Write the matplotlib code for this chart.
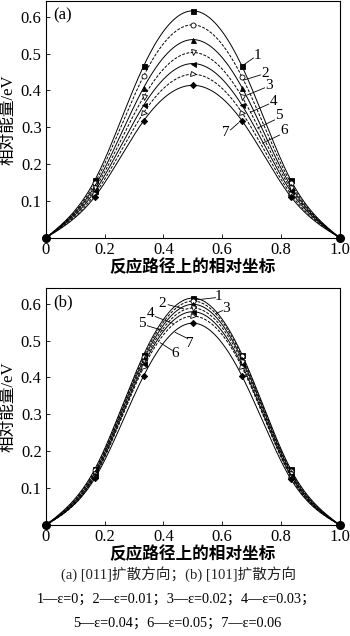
import numpy as np
import matplotlib
matplotlib.use('Agg')
import matplotlib.pyplot as plt

plt.rcParams['font.family'] = ['Liberation Serif', 'Noto Sans CJK SC']

# relative coordinate along the reaction path
x_pts = [0, 0.167, 0.333, 0.5, 0.667, 0.833, 1.0]

# (a) [011] direction, relative energy / eV, eps = 0 ... 0.06
energy_a = [
    [0, 0.157, 0.467, 0.616, 0.466, 0.157, 0],
    [0, 0.149, 0.440, 0.578, 0.437, 0.149, 0],
    [0, 0.141, 0.408, 0.538, 0.408, 0.141, 0],
    [0, 0.134, 0.383, 0.503, 0.383, 0.134, 0],
    [0, 0.127, 0.360, 0.473, 0.360, 0.127, 0],
    [0, 0.119, 0.340, 0.444, 0.340, 0.119, 0],
    [0, 0.112, 0.318, 0.414, 0.318, 0.112, 0],
]
# (b) [101] direction
energy_b = [
    [0, 0.152, 0.462, 0.615, 0.462, 0.151, 0],
    [0, 0.148, 0.456, 0.607, 0.457, 0.147, 0],
    [0, 0.143, 0.449, 0.598, 0.450, 0.143, 0],
    [0, 0.139, 0.442, 0.588, 0.443, 0.139, 0],
    [0, 0.135, 0.435, 0.578, 0.434, 0.135, 0],
    [0, 0.131, 0.428, 0.566, 0.428, 0.131, 0],
    [0, 0.127, 0.405, 0.547, 0.404, 0.125, 0],
]
series_names = ['1', '2', '3', '4', '5', '6', '7']
x_ticks = [0, 0.2, 0.4, 0.6, 0.8, 1.0]
x_ticklabels = ['0', '0.2', '0.4', '0.6', '0.8', '1.0']
y_ticks = [0.1, 0.2, 0.3, 0.4, 0.5, 0.6]

markers = ['s', 'o', '^', 'v', '<', '>', 'D']
filled = [True, False, True, False, True, False, True]
styles = ['-', '--', '-', '--', '-', '--', '-']


def natural_spline(x, y, xs):
    x = np.asarray(x, float)
    y = np.asarray(y, float)
    n = len(x)
    h = np.diff(x)
    A = np.zeros((n, n))
    r = np.zeros(n)
    A[0, 0] = A[-1, -1] = 1
    for i in range(1, n - 1):
        A[i, i - 1] = h[i - 1]
        A[i, i] = 2 * (h[i - 1] + h[i])
        A[i, i + 1] = h[i]
        r[i] = 3 * ((y[i + 1] - y[i]) / h[i] - (y[i] - y[i - 1]) / h[i - 1])
    c = np.linalg.solve(A, r)
    out = np.empty_like(xs)
    for k, xv in enumerate(xs):
        i = min(np.searchsorted(x, xv, side='right') - 1, n - 2)
        i = max(i, 0)
        b = (y[i + 1] - y[i]) / h[i] - h[i] * (2 * c[i] + c[i + 1]) / 3
        d = (c[i + 1] - c[i]) / (3 * h[i])
        t = xv - x[i]
        out[k] = y[i] + b * t + c[i] * t ** 2 + d * t ** 3
    return out


fig = plt.figure(figsize=(3.5, 6.36), dpi=100)
ax_a = fig.add_axes([0.131, 0.626, 0.840, 0.372])
ax_b = fig.add_axes([0.131, 0.1745, 0.840, 0.3725])

xs = np.linspace(0, 1, 300)

# label positions: (text xy, line start, line end) in data coords
labels_a = [
    ((0.720, 0.496), (0.672, 0.469), (0.706, 0.488)),
    ((0.747, 0.447), (0.672, 0.428), (0.730, 0.442)),
    ((0.758, 0.413), (0.686, 0.388), (0.744, 0.407)),
    ((0.775, 0.371), (0.696, 0.341), (0.758, 0.363)),
    ((0.792, 0.331), (0.720, 0.298), (0.778, 0.320)),
    ((0.809, 0.290), (0.737, 0.257), (0.795, 0.279)),
    ((0.611, 0.285), (0.655, 0.312), (0.628, 0.293)),
]
labels_b = [
    ((0.587, 0.618), (0.509, 0.610), (0.577, 0.616)),
    ((0.396, 0.599), (0.468, 0.586), (0.416, 0.597)),
    ((0.614, 0.586), (0.577, 0.573), (0.601, 0.581)),
    ((0.355, 0.573), (0.433, 0.546), (0.372, 0.565)),
    ((0.328, 0.546), (0.399, 0.527), (0.345, 0.540)),
    ((0.440, 0.465), (0.389, 0.494), (0.430, 0.473)),
    ((0.491, 0.492), (0.440, 0.522), (0.481, 0.506)),
]

for ax, data, labs, tag in [(ax_a, energy_a, labels_a, '(a)'),
                            (ax_b, energy_b, labels_b, '(b)')]:
    for i, ys in enumerate(data):
        ax.plot(xs, natural_spline(x_pts, ys, xs), color='black',
                linestyle=styles[i], linewidth=0.7, dashes=(3, 1.5) if styles[i] == '--' else (None, None))
        ax.plot(x_pts[1:-1], ys[1:-1], linestyle='none', marker=markers[i],
                markersize=3.6 if markers[i] != 'D' else 3.2,
                markerfacecolor='black' if filled[i] else 'white',
                markeredgecolor='black', markeredgewidth=0.6)
        (tx, ty), (x0, y0), (x1, y1) = labs[i]
        ax.plot([x0, x1], [y0, y1], color='black', linewidth=0.6)
        ax.text(tx, ty, series_names[i], fontsize=11, ha='center', va='center')
    ax.plot([x_pts[0], x_pts[-1]], [data[0][0], data[0][-1]], linestyle='none',
            marker='o', markersize=5.5, color='black', clip_on=False, zorder=5)
    ax.set_xlim(0, 1.0)
    ax.set_ylim(0, 0.642)
    ax.set_xticks(x_ticks)
    ax.set_xticklabels(x_ticklabels)
    ax.set_yticks(y_ticks)
    ax.tick_params(direction='in', length=3, width=0.6, labelsize=12, pad=3)
    for s in ax.spines.values():
        s.set_linewidth(0.8)
    ax.text(0.025, 0.975, tag, transform=ax.transAxes, fontsize=12, ha='left', va='top')
    ax.set_xlabel('反应路径上的相对坐标', fontsize=12, fontweight='bold', labelpad=1)
    ax.set_ylabel('相对能量/eV', fontsize=12, labelpad=3)

fig.text(0.51, 0.097, '(a) [011]扩散方向；(b) [101]扩散方向', fontsize=10.5,
         ha='center', va='center', color='#222222')
fig.text(0.505, 0.058, '1—ε=0；2—ε=0.01；3—ε=0.02；4—ε=0.03；', fontsize=10.3,
         ha='center', va='center')
fig.text(0.505, 0.020, '5—ε=0.04；6—ε=0.05；7—ε=0.06', fontsize=10.3,
         ha='center', va='center')

fig.savefig('out.png', dpi=100)
